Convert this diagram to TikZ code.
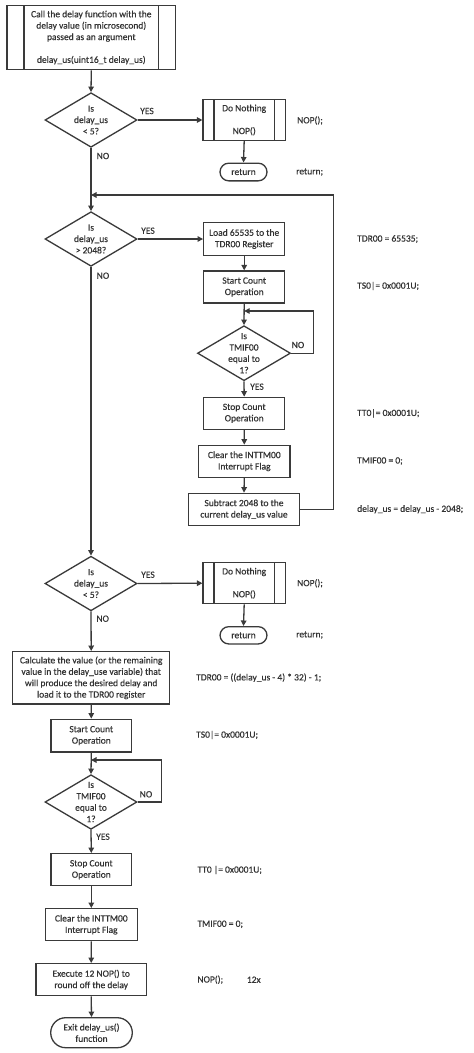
\documentclass[tikz,border=0pt]{standalone}
\usepackage{fontspec}
\setmainfont{Carlito}[UprightFeatures={FakeBold=0.35}]
\usetikzlibrary{shapes.geometric,arrows.meta,calc}
\definecolor{ln}{HTML}{3A3A3A}
\definecolor{tx}{HTML}{333333}
\newcommand{\fs}{\fontsize{9.5}{11.4}\selectfont}
\begin{document}
\begin{tikzpicture}[x=1pt,y=-1pt,
  lw/.style={line width=1.3pt},
  sz/.style 2 args={minimum width=#1pt, minimum height=#2pt},
  box/.style={draw=ln, lw, fill=white, inner sep=0pt, align=center, font=\fs, text=tx},
  predef/.style={path picture={\draw[ln, lw]
     ([xshift=#1pt]path picture bounding box.north west) -- ([xshift=#1pt]path picture bounding box.south west)
     ([xshift=-#1pt]path picture bounding box.north east) -- ([xshift=-#1pt]path picture bounding box.south east);}},
  term/.style={box, rounded corners=#1pt},
  dec/.style={diamond, draw=ln, lw, inner sep=0pt, sz={92}{54.6}},
  dect/.style={font=\fs, align=center, inner sep=0pt, text=tx},
  code/.style={anchor=west, font=\fs, inner sep=0pt, text=tx},
  lab/.style={font=\fs, inner sep=0pt, text=tx},
  arr/.style={draw=ln, lw, -{Triangle[length=5.5pt,width=5.5pt]}},
  con/.style={draw=ln, lw}
]
\useasboundingbox (0,0) rectangle (474,1053);
\fill[white] (0,0) rectangle (474,1053);

% ---------- top ----------
\node[box, predef=17, sz={168.7}{64.4}] (start) at (91.3,37.5)
  {Call the delay function with the\\delay value (in microsecond)\\passed as an argument\\[11.4pt]delay\_us(uint16\_t delay\_us)};

\node[dec] (d1) at (91,120) {};
\node[dect] (d1t) at (d1.center) {Is\\delay\_us\\< 5?};
\node[box, predef=11, sz={82.3}{40.6}] (nop1) at (244.2,120) {Do Nothing\\[11.4pt]NOP()};
\node[term=8.8, sz={47}{17.7}] (ret1) at (243.5,172) {return};
\node[code] (c1) at (297,120.5) {NOP();};
\node[code] (c2) at (296,172) {return;};
\node[lab] (y1) at (147,111) {YES};
\node[lab] (n1) at (103,156) {NO};

% ---------- loop section ----------
\coordinate (j2) at (91,195);
\node[dec] (d2) at (91,239) {};
\node[dect] (d2t) at (d2.center) {Is\\delay\_us\\> 2048?};
\node[lab] (y2) at (148,230.7) {YES};
\node[lab] (n2) at (103,275.7) {NO};

\node[box, sz={81}{32.6}] (load) at (244.2,239) {Load 65535 to the\\TDR00 Register};
\node[box, sz={81}{32}] (startA) at (244.2,287) {Start Count\\Operation};
\coordinate (jA) at (244.2,311);
\node[dec, sz={93}{55}] (dA) at (244,353.2) {};
\node[dect] (dAt) at (dA.center) {Is\\TMIF00\\equal to\\1?};
\node[lab] (nA) at (298,345) {NO};
\node[lab] (yA) at (257,386.7) {YES};
\node[box, sz={81}{32}] (stopA) at (244.2,413.3) {Stop Count\\Operation};
\node[box, sz={91.3}{32}] (clearA) at (244.3,461.3) {Clear the INTTM00\\Interrupt Flag};
\node[box, sz={110.6}{32}] (subA) at (244,509.3) {Subtract 2048 to the\\current delay\_us value};

\node[code] (c3) at (357,239) {TDR00 = 65535;};
\node[code] (c4) at (357,286) {TS0|= 0x0001U;};
\node[code] (c5) at (357,413.3) {TT0|= 0x0001U;};
\node[code] (c6) at (357,461) {TMIF00 = 0;};
\node[code] (c7) at (357,509.3) {delay\_us = delay\_us - 2048;};

% ---------- second check ----------
\node[dec] (d3) at (91,583.5) {};
\node[dect] (d3t) at (d3.center) {Is\\delay\_us\\< 5?};
\node[lab] (y3) at (148,574.7) {YES};
\node[lab] (n3) at (102.7,618.7) {NO};
\node[box, predef=11, sz={82.3}{41}] (nop2) at (244.2,583.2) {Do Nothing\\[11.4pt]NOP()};
\node[term=8.8, sz={47}{17.3}] (ret2) at (243.5,635.3) {return};
\node[code] (c8) at (297,583.3) {NOP();};
\node[code] (c9) at (296,635) {return;};

% ---------- final section ----------
\node[box, sz={157}{52.3}] (calc) at (91.2,677.8)
  {Calculate the value (or the remaining\\value in the delay\_use variable) that\\will produce the desired delay and\\load it to the TDR00 register};
\node[box, sz={80.7}{32.7}] (startB) at (91.3,735.6) {Start Count\\Operation};
\coordinate (jB) at (91,760);
\node[dec] (d4) at (91,802) {};
\node[dect] (d4t) at (d4.center) {Is\\TMIF00\\equal to\\1?};
\node[lab] (n4) at (146,794.3) {NO};
\node[lab] (y4) at (103,836.7) {YES};
\node[box, sz={80.7}{32}] (stopB) at (91.3,869.7) {Stop Count\\Operation};
\node[box, sz={92}{32}] (clearB) at (91.3,924.7) {Clear the INTTM00\\Interrupt Flag};
\node[box, sz={110.3}{32}] (exec) at (91.2,979.7) {Execute 12 NOP() to\\round off the delay};
\node[term=15, sz={81.6}{30}] (exit) at (91.5,1032.7) {Exit delay\_us()\\function};

\node[code] (c10) at (196,677.7) {TDR00 = ((delay\_us - 4) * 32) - 1;};
\node[code] (c11) at (196,735) {TS0|= 0x0001U;};
\node[code] (c12) at (197.3,870) {TT0 |= 0x0001U;};
\node[code] (c13) at (197.3,924.3) {TMIF00 = 0;};
\node[code] (c14) at (197.3,979.7) {NOP();};
\node[code] (c15) at (246.7,979.7) {12x};

% ---------- connectors ----------
\draw[arr] (start.south) -- (d1.north);
\draw[arr] (d1.east) -- (nop1.west);
\draw[arr] (nop1.south) -- (ret1.north);
\draw[arr] (d1.south) -- (d2.north);
\draw[arr] (d2.east) -- (load.west);
\draw[arr] (load.south) -- (startA.north);
\draw[arr] (startA.south) -- (dA.north);
\draw[arr] (dA.east) -- ++(22,0) |- (jA);
\draw[arr] (dA.south) -- (stopA.north);
\draw[arr] (stopA.south) -- (clearA.north);
\draw[arr] (clearA.south) -- (subA.north);
\draw[arr] (subA.east) -- ++(33.7,0) |- (j2);
\draw[arr] (d2.south) -- (d3.north);
\draw[arr] (d3.east) -- (nop2.west);
\draw[arr] (nop2.south) -- (ret2.north);
\draw[arr] (d3.south) -- (calc.north);
\draw[arr] (calc.south) -- (startB.north);
\draw[arr] (startB.south) -- (d4.north);
\draw[arr] (d4.east) -- ++(23.7,0) |- (jB);
\draw[arr] (d4.south) -- (stopB.north);
\draw[arr] (stopB.south) -- (clearB.north);
\draw[arr] (clearB.south) -- (exec.north);
\draw[arr] (exec.south) -- (exit.north);
\end{tikzpicture}
\end{document}
